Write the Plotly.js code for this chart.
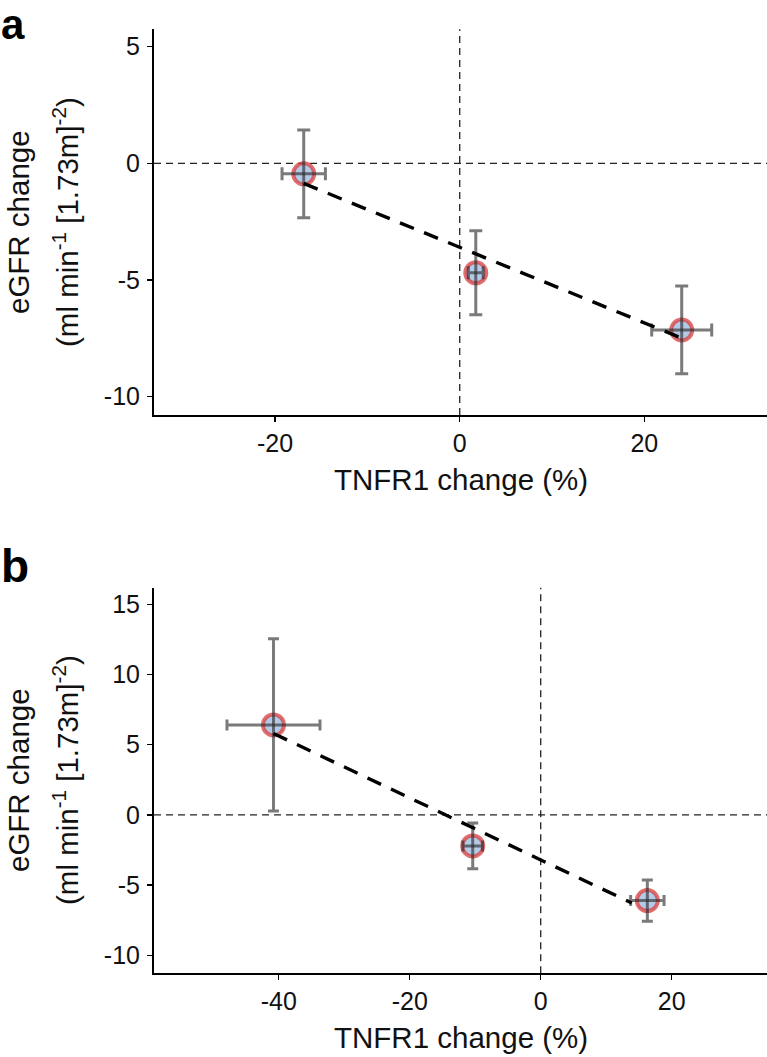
<!DOCTYPE html>
<html>
<head>
<meta charset="utf-8">
<script src="https://cdn.plot.ly/plotly-3.0.1.min.js"></script>
<style>html,body{margin:0;padding:0;background:#fff;}#chart{width:767px;height:1057px;}</style>
</head>
<body>
<div id="chart"></div>
<script>
// ---- Panel a data ----
const A_X = [-16.9, 1.74, 24.05];          // TNFR1 change (%)
const A_Y = [-0.45, -4.69, -7.14];         // eGFR change
const A_XERR = [2.35, 0.8, 3.25];
const A_YERR = [1.88, 1.8, 1.88];
const A_FIT_X = [-16.9, 23.8];
const A_FIT_Y = [-0.86, -7.45];
const A_XTICKS = [-20, 0, 20];
const A_XTICKTEXT = ["-20", "0", "20"];
const A_YTICKS = [-10, -5, 0, 5];
const A_YTICKTEXT = ["-10", "-5", "0", "5"];

// ---- Panel b data ----
const B_X = [-40.8, -10.38, 16.28];
const B_Y = [6.41, -2.21, -6.10];
const B_XERR = [7.1, 1.5, 2.55];
const B_YERR = [6.13, 1.63, 1.47];
const B_FIT_X = [-40.8, 13.9];
const B_FIT_Y = [5.8, -6.27];
const B_XTICKS = [-40, -20, 0, 20];
const B_XTICKTEXT = ["-40", "-20", "0", "20"];
const B_YTICKS = [-10, -5, 0, 5, 10, 15];
const B_YTICKTEXT = ["-10", "-5", "0", "5", "10", "15"];

const X_TITLE = "TNFR1 change (%)";
const Y_TITLE_1 = "eGFR change";
const Y_TITLE_2 = "(ml min<sup>-1</sup> [1.73m]<sup>-2</sup>)";

const W = 767, H = 1057;
const FONT = "Liberation Sans, Arial, Helvetica, sans-serif";
const px = v => v / W;
const py = v => 1 - v / H;

const markerStyle = {size: 21, color: "rgb(180,202,230)", line: {color: "rgba(215,60,60,0.75)", width: 4}};
const errColor = "rgba(40,40,40,0.62)";

function panelTraces(xs, ys, xe, ye, fx, fy, xa, ya, capW) {
  return [
    {type: "scatter", mode: "markers", x: xs, y: ys, xaxis: xa, yaxis: ya,
     marker: markerStyle, showlegend: false, hoverinfo: "skip"},
    {type: "scatter", mode: "markers", x: xs, y: ys, xaxis: xa, yaxis: ya,
     marker: {size: 1, color: "rgba(0,0,0,0)"}, showlegend: false, hoverinfo: "skip",
     error_x: {type: "data", array: xe, visible: true, color: errColor, thickness: 3, width: capW},
     error_y: {type: "data", array: ye, visible: true, color: errColor, thickness: 3, width: capW}},
    {type: "scatter", mode: "lines", x: fx, y: fy, xaxis: xa, yaxis: ya,
     line: {color: "#000", width: 3.4, dash: "15px,11px"}, showlegend: false, hoverinfo: "skip"}
  ];
}

const data = [
  ...panelTraces(A_X, A_Y, A_XERR, A_YERR, A_FIT_X, A_FIT_Y, "x", "y", 6.5),
  ...panelTraces(B_X, B_Y, B_XERR, B_YERR, B_FIT_X, B_FIT_Y, "x2", "y2", 5.5)
];

function axis(extra) {
  return Object.assign({
    showgrid: false, zeroline: false, showline: true, linecolor: "#000", linewidth: 2,
    ticks: "outside", ticklen: 5, tickwidth: 1.5, tickcolor: "#000",
    tickfont: {family: FONT, size: 25, color: "#111"}, tickmode: "array", fixedrange: true
  }, extra);
}

const xDom = [154 / W, 1];
const aDom = [py(415), py(29.3)];
const bDom = [py(973.3), py(587.7)];

const layout = {
  width: W, height: H,
  margin: {l: 0, r: 0, t: 0, b: 0},
  paper_bgcolor: "#fff", plot_bgcolor: "#fff",
  font: {family: FONT, color: "#111"},
  xaxis: axis({domain: xDom, range: [-33.12, 33.29], anchor: "y", tickvals: A_XTICKS, ticktext: A_XTICKTEXT, ticklabelstandoff: 0}),
  yaxis: axis({domain: aDom, range: [-10.784, 5.746], anchor: "x", tickvals: A_YTICKS, ticktext: A_YTICKTEXT, ticklabelstandoff: 2}),
  xaxis2: axis({domain: xDom, range: [-59.04, 34.55], anchor: "y2", tickvals: B_XTICKS, ticktext: B_XTICKTEXT, ticklabelstandoff: 0}),
  yaxis2: axis({domain: bDom, range: [-11.28, 16.18], anchor: "x2", tickvals: B_YTICKS, ticktext: B_YTICKTEXT, ticklabelstandoff: 2}),
  shapes: [
    {type: "line", xref: "x", yref: "y domain", x0: 0, x1: 0, y0: 0, y1: 1, layer: "below", line: {color: "#222", width: 1.3, dash: "7px,5px"}},
    {type: "line", xref: "x domain", yref: "y", x0: 0, x1: 1, y0: 0, y1: 0, layer: "below", line: {color: "#222", width: 1.3, dash: "7px,5px"}},
    {type: "line", xref: "x2", yref: "y2 domain", x0: 0, x1: 0, y0: 0, y1: 1, layer: "below", line: {color: "#222", width: 1.3, dash: "7px,5px"}},
    {type: "line", xref: "x2 domain", yref: "y2", x0: 0, x1: 1, y0: 0, y1: 0, layer: "below", line: {color: "#222", width: 1.3, dash: "7px,5px"}}
  ],
  annotations: [
    {text: "<b>a</b>", xref: "paper", yref: "paper", x: px(0), y: py(0), xanchor: "left", yanchor: "top", borderpad: 0, showarrow: false, font: {family: FONT, size: 42, color: "#000"}},
    {text: "<b>b</b>", xref: "paper", yref: "paper", x: px(0), y: py(539), xanchor: "left", yanchor: "top", borderpad: 0, showarrow: false, font: {family: FONT, size: 46, color: "#000"}},
    {text: X_TITLE, xref: "paper", yref: "paper", x: px(461), y: py(479), xanchor: "center", yanchor: "middle", showarrow: false, font: {family: FONT, size: 29.5, color: "#111"}},
    {text: X_TITLE, xref: "paper", yref: "paper", x: px(461), y: py(1037), xanchor: "center", yanchor: "middle", showarrow: false, font: {family: FONT, size: 29.5, color: "#111"}},
    {text: Y_TITLE_1, textangle: -90, xref: "paper", yref: "paper", x: px(18), y: py(222), xanchor: "center", yanchor: "middle", showarrow: false, font: {family: FONT, size: 29.5, color: "#111"}},
    {text: Y_TITLE_2, textangle: -90, xref: "paper", yref: "paper", x: px(65), y: py(222), xanchor: "center", yanchor: "middle", showarrow: false, font: {family: FONT, size: 29.5, color: "#111"}},
    {text: Y_TITLE_1, textangle: -90, xref: "paper", yref: "paper", x: px(18), y: py(780), xanchor: "center", yanchor: "middle", showarrow: false, font: {family: FONT, size: 29.5, color: "#111"}},
    {text: Y_TITLE_2, textangle: -90, xref: "paper", yref: "paper", x: px(65), y: py(780), xanchor: "center", yanchor: "middle", showarrow: false, font: {family: FONT, size: 29.5, color: "#111"}}
  ]
};

Plotly.newPlot("chart", data, layout, {staticPlot: true, displayModeBar: false});
</script>
</body>
</html>
